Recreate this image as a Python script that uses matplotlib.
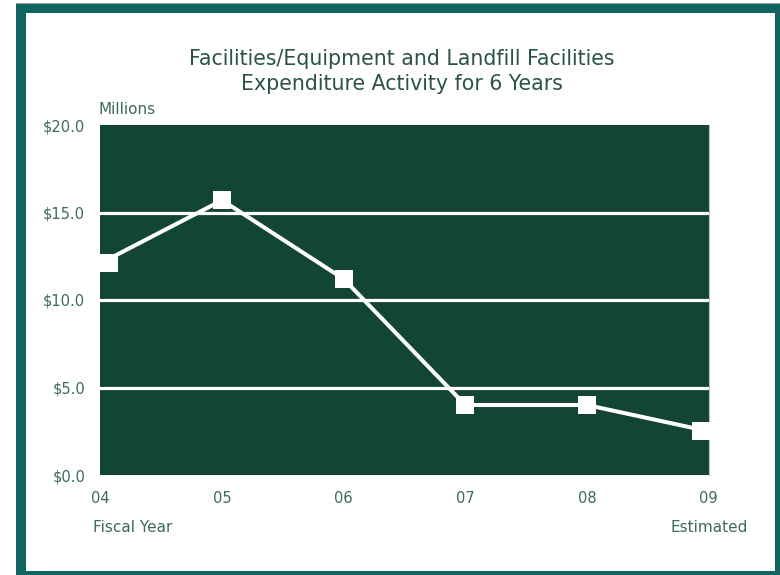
import matplotlib
matplotlib.use("Agg")
import matplotlib.pyplot as plt
import matplotlib.transforms as mtransforms
from matplotlib.patches import Rectangle

# ---- data ----
years = ["04", "05", "06", "07", "08", "09"]
values = [12.1, 15.7, 11.2, 4.0, 4.0, 2.5]
y_ticks = [0, 5, 10, 15, 20]
y_labels = ["$0.0", "$5.0", "$10.0", "$15.0", "$20.0"]
title_lines = ["Facilities/Equipment and Landfill Facilities",
               "Expenditure Activity for 6 Years"]

W, H = 780, 575
fig = plt.figure(figsize=(W / 100, H / 100), dpi=100)
fig.patch.set_facecolor("white")

plot_bg = "#134535"
teal = "#10665f"
text_c = "#3d6a5d"
title_c = "#2b5447"

def fx(px):
    return px / W

def fy(py):
    return 1 - py / H

# frame
fig.add_artist(Rectangle((fx(16), fy(4.5)), fx(780) - fx(16), fy(3) - fy(4.5),
                         transform=fig.transFigure, facecolor="#9a9a9a", edgecolor="none"))
outer_l, outer_r, outer_t, outer_b = 16, 780, 4.5, 575
inner_l, inner_r, inner_t, inner_b = 26, 775, 13, 571
for (x0, y0, x1, y1) in [(outer_l, outer_t, inner_l, outer_b),
                         (inner_r, outer_t, outer_r, outer_b),
                         (outer_l, outer_t, outer_r, inner_t),
                         (outer_l, inner_b, outer_r, outer_b)]:
    fig.add_artist(Rectangle((fx(x0), fy(y1)), fx(x1) - fx(x0), fy(y0) - fy(y1),
                             transform=fig.transFigure, facecolor=teal, edgecolor="none"))

# axes
ax_l, ax_r, ax_t, ax_b = 100.5, 708.5, 125, 475
ax = fig.add_axes([fx(ax_l), fy(ax_b), fx(ax_r) - fx(ax_l), fy(ax_t) - fy(ax_b)])
ax.set_facecolor(plot_bg)
x = list(range(len(years)))
ax.set_xlim(0, len(years) - 1)
ax.set_ylim(0, 20)

for s in ["top", "left", "bottom"]:
    ax.spines[s].set_visible(False)
ax.spines["right"].set_color("#b8c0bc")
ax.spines["right"].set_linewidth(0.8)

# grid lines
for v in y_ticks[1:-1]:
    ax.axhline(v, color="white", lw=2.3, zorder=1)

# line
ax.plot(x, values, color="white", lw=2.9, zorder=3, solid_joinstyle="miter")
# markers: interior at data positions; ends nudged inside the plot area
ms = 12.6
ax.plot(x[1:-1], values[1:-1], ls="none", marker="s", ms=ms, color="white",
        markeredgewidth=0, zorder=4)
off_l = mtransforms.ScaledTranslation(9 / 100, 0, fig.dpi_scale_trans)
off_r = mtransforms.ScaledTranslation(-7.5 / 100, 0, fig.dpi_scale_trans)
ax.plot([x[0]], [values[0]], ls="none", marker="s", ms=ms, color="white",
        markeredgewidth=0, zorder=4, transform=ax.transData + off_l, clip_on=False)
ax.plot([x[-1]], [values[-1]], ls="none", marker="s", ms=ms, color="white",
        markeredgewidth=0, zorder=4, transform=ax.transData + off_r, clip_on=False)

# ticks
ax.set_xticks(x)
ax.set_xticklabels(years)
ax.set_xticks(x[1:-1], minor=True)
ax.tick_params(axis="x", which="major", length=0, pad=11.5, labelsize=10.5, labelcolor=text_c)
ax.tick_params(axis="x", which="minor", direction="in", length=5, width=2.2, color="white")
ax.set_yticks(y_ticks)
ax.set_yticklabels(y_labels)
ax.tick_params(axis="y", length=0, pad=11, labelsize=10.5, labelcolor=text_c)

# texts
fig.text(fx(401.5), fy(59), title_lines[0], ha="center", va="center", fontsize=14.8, color=title_c)
fig.text(fx(401.5), fy(84), title_lines[1], ha="center", va="center", fontsize=14.8, color=title_c)
fig.text(fx(99), fy(109), "Millions", ha="left", va="center", fontsize=11, color=text_c)
fig.text(fx(93), fy(528), "Fiscal Year", ha="left", va="center", fontsize=11, color=text_c)
fig.text(fx(748), fy(527), "Estimated", ha="right", va="center", fontsize=11, color=text_c)

fig.savefig("out.png", dpi=100, facecolor="white")
